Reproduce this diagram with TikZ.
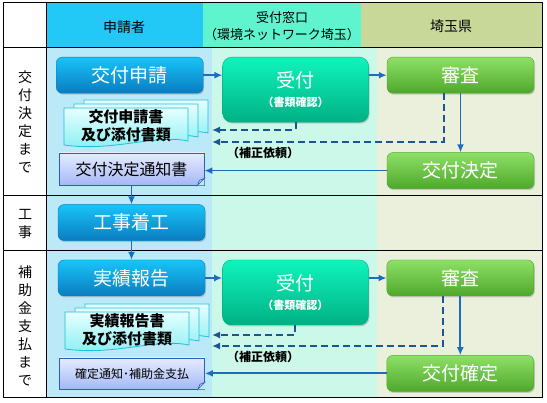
\documentclass[tikz,border=0pt]{standalone}
\usepackage{fontspec}
\setmainfont{Noto Sans CJK JP}
\usetikzlibrary{arrows.meta, positioning, shadows}

\definecolor{hdrApply}{HTML}{22C8F6}
\definecolor{bodyApply}{HTML}{BCE9F8}
\definecolor{hdrDesk}{HTML}{5EF4CE}
\definecolor{bodyDesk}{HTML}{CCF8EA}
\definecolor{hdrPref}{HTML}{C8D898}
\definecolor{bodyPref}{HTML}{EBF0DC}
\definecolor{applyTop}{HTML}{18C4F8}
\definecolor{applyBot}{HTML}{0A7CC0}
\definecolor{deskTop}{HTML}{10F4BC}
\definecolor{deskBot}{HTML}{00B084}
\definecolor{prefTop}{HTML}{8EE066}
\definecolor{prefBot}{HTML}{4EA82C}
\definecolor{sheetTop}{HTML}{E6FFFF}
\definecolor{sheetBot}{HTML}{84EEF2}
\definecolor{sheetLine}{HTML}{1EC0D6}
\definecolor{noteTop}{HTML}{E6ECFF}
\definecolor{noteBot}{HTML}{A4B8F6}
\definecolor{noteLine}{HTML}{2E5CB8}
\definecolor{flowLine}{HTML}{1F6CBE}
\definecolor{fixLine}{HTML}{1C5494}

% one paper sheet with a wavy lower edge, top-left corner at (#1,#2)
\newcommand{\sheet}[2]{%
  \draw[sheetLine, line width=0.8pt, top color=sheetTop, bottom color=sheetBot]
    ({#1},{#2}) -- ({#1+124},{#2}) -- ({#1+124},{#2+33})
    .. controls ({#1+90},{#2+26}) and ({#1+50},{#2+44}) .. ({#1},{#2+37}) -- cycle;}
% a stack of three sheets: name, x, y, text
\newcommand{\docstack}[4]{%
  \sheet{#2+20}{#3-8}
  \sheet{#2+10}{#3-4}
  \sheet{#2}{#3}
  \node[stacktext] (#1) at ({#2+62},{#3+18}) {#4};}

\begin{document}
\begin{tikzpicture}[x=1pt, y=-1pt,
    flowbox/.style={rectangle, rounded corners=6pt, minimum width=147pt, minimum height=36pt,
      text=white, font=\fontsize{19}{21}\selectfont, inner sep=0pt,
      drop shadow={opacity=0.35, shadow xshift=1pt, shadow yshift=-1.5pt}},
    applybox/.style={flowbox, draw=applyBot, top color=applyTop, bottom color=applyBot},
    deskbox/.style={flowbox, draw=deskBot, top color=deskTop, bottom color=deskBot,
      minimum width=146pt, minimum height=65pt, rounded corners=9pt, align=center},
    prefbox/.style={flowbox, draw=prefBot, top color=prefTop, bottom color=prefBot},
    notebox/.style={rectangle, draw=noteLine, line width=0.8pt, top color=noteTop, bottom color=noteBot,
      minimum width=145pt, minimum height=32pt, inner sep=0pt},
    stacktext/.style={font=\fontsize{15}{18}\selectfont\bfseries, align=center, inner sep=0pt},
    hdr/.style={font=\fontsize{14}{17}\selectfont, align=center},
    rowlabel/.style={font=\fontsize{14}{18}\selectfont, align=center},
    fixnote/.style={font=\fontsize{12}{14}\selectfont\bfseries},
    flow/.style={-{Latex[length=8pt,width=7pt]}, flowLine, line width=1.8pt},
    fix/.style={-{Latex[length=8pt,width=7pt]}, fixLine, line width=2pt, dash pattern=on 7pt off 4pt}
]
\useasboundingbox (0,0) rectangle (547,403);

% lanes
\fill[white] (3,3) rectangle (46,398);
\fill[hdrApply] (46,3) rectangle (203,48);
\fill[hdrDesk] (203,3) rectangle (361,48);
\fill[hdrPref] (361,3) rectangle (542,48);
\fill[bodyApply] (46,48) rectangle (212,398);
\fill[bodyDesk] (212,48) rectangle (377,398);
\fill[bodyPref] (377,48) rectangle (542,398);
\draw[line width=1pt] (3,3) rectangle (542,398);
\draw[line width=1pt] (46,3) -- (46,398);
\draw[line width=1pt] (3,48) -- (542,48);
\draw[line width=1pt] (3,196) -- (542,196);
\draw[line width=1pt] (3,251) -- (542,251);

\node[hdr] (hApply) at (124,27) {申請者};
\node[hdr, font=\fontsize{13}{17}\selectfont] (hDesk) at (282,26) {受付窓口\\（環境ネットワーク埼玉）};
\node[hdr] (hPref) at (451,26) {埼玉県};

\node[rowlabel] (rGrant) at (25,122) {交\\付\\決\\定\\ま\\で};
\node[rowlabel] (rWork) at (25,224) {工\\事};
\node[rowlabel] (rPay) at (25,326) {補\\助\\金\\支\\払\\ま\\で};

% grant stage
\node[applybox, anchor=north west] (apply) at (56,57) {交付申請};
\node[deskbox, right=19pt of apply.north east, anchor=north west] (recv)
  {受付\\[-2pt]{\fontsize{11}{13}\selectfont\bfseries （書類確認）}};
\node[prefbox, right=18pt of recv.north east, anchor=north west] (check) {審査};
\node[prefbox, below=59pt of check] (grant) {交付決定};
\docstack{appdocs}{64}{108}{交付申請書\\及び添付書類}
\node[notebox, font=\fontsize{16}{18}\selectfont] (notice) at (131.5,169) {交付決定通知書};
\fill[bodyApply] ([xshift=-7pt]notice.south east) -- (notice.south east) -- ([yshift=7pt]notice.south east) -- cycle;
\draw[noteLine, fill=noteBot!70, line width=0.6pt] ([xshift=-7pt]notice.south east) -- ([yshift=7pt]notice.south east) -- ([xshift=-5pt,yshift=5pt]notice.south east) -- cycle;

\coordinate (fixA) at (212,130);
\coordinate (fixB) at (212,142);
\draw[flow] (apply.east) -- (apply.east -| recv.west);
\draw[flow] (recv.east |- check) -- (check.west);
\draw[flow] (check) -- (grant);
\draw[fix] (recv.south) |- (fixA);
\draw[fix] ([xshift=-17pt]check.south) |- (fixB);
\node[fixnote] (fixlbl) at (263,153) {（補正依頼）};
\draw[flow] (grant.west) -- (grant.west -| notice.east);

% works
\node[applybox, below=19pt of notice] (works) {工事着工};
\draw[flow] (notice.south) -- (notice.south |- works.north);

% payment stage
\node[applybox, below=19pt of works] (report) {実績報告};
\draw[flow] (works) -- (report);
\node[deskbox, right=17pt of report.north east, anchor=north west] (recv2)
  {受付\\[-2pt]{\fontsize{11}{13}\selectfont\bfseries （書類確認）}};
\node[prefbox, right=18pt of recv2.north east, anchor=north west] (check2) {審査};
\node[prefbox, below=59pt of check2] (confirm) {交付確定};
\docstack{repdocs}{65}{312}{実績報告書\\及び添付書類}
\node[notebox, font=\fontsize{12}{14}\selectfont, minimum height=31pt] (notice2) at (132,373.5) {確定通知･補助金支払};
\fill[bodyApply] ([xshift=-7pt]notice2.south east) -- (notice2.south east) -- ([yshift=7pt]notice2.south east) -- cycle;
\draw[noteLine, fill=noteBot!70, line width=0.6pt] ([xshift=-7pt]notice2.south east) -- ([yshift=7pt]notice2.south east) -- ([xshift=-5pt,yshift=5pt]notice2.south east) -- cycle;

\coordinate (fixC) at (212,335);
\coordinate (fixD) at (212,346);
\draw[flow] (report.east) -- (report.east -| recv2.west);
\draw[flow] (recv2.east |- check2) -- (check2.west);
\draw[flow] (check2) -- (confirm);
\draw[fix] (recv2.south) |- (fixC);
\draw[fix] ([xshift=-17pt]check2.south) |- (fixD);
\node[fixnote] (fixlbl2) at (263,357) {（補正依頼）};
\draw[flow] (confirm.west) -- (confirm.west -| notice2.east);
\end{tikzpicture}
\end{document}
